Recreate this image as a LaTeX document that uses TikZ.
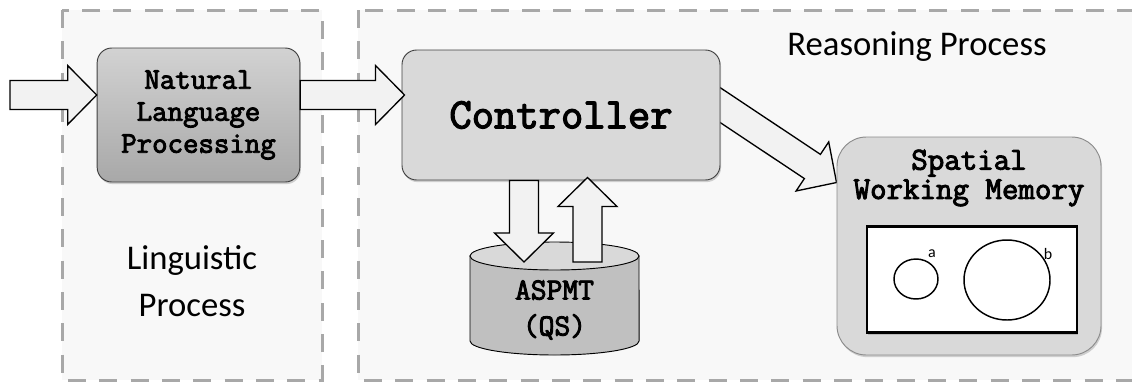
\documentclass[tikz,border=0pt]{standalone}
\usepackage{fontspec}
\setmainfont{Carlito}
\newfontfamily\codefont{Latin Modern Mono}[FakeBold=3]
\usetikzlibrary{shapes.geometric,shadows,calc,positioning}
\pgfdeclarelayer{bg}
\pgfdeclarelayer{arrows}
\pgfsetlayers{bg,arrows,main}

\definecolor{regionfill}{HTML}{F8F8F8}
\definecolor{regionline}{HTML}{A8A8A8}
\definecolor{boxfill}{HTML}{D9D9D9}
\definecolor{boxtop}{HTML}{D2D2D2}
\definecolor{boxbottom}{HTML}{A8A8A8}
\definecolor{arrowfill}{HTML}{F2F2F2}
\definecolor{dbfill}{HTML}{C0C0C0}

\tikzset{
  region/.style={fill=regionfill, draw=regionline, line width=2.25pt, dash pattern=on 13.5pt off 10pt},
  plabel/.style={font=\fontsize{26}{31.5}\selectfont, align=center},
  shade/.style={drop shadow={opacity=0.35, shadow xshift=0.8pt, shadow yshift=-1.6pt}},
  nlpbox/.style={shade, draw=black!75, line width=0.7pt, rounded corners=11pt, top color=boxtop, bottom color=boxbottom,
    minimum width=152pt, minimum height=100.5pt, align=center, font=\codefont\fontsize{22.5}{24}\selectfont},
  ctrlbox/.style={shade, draw=black!75, line width=0.7pt, rounded corners=11pt, fill=boxfill,
    minimum width=238.5pt, minimum height=97.5pt, font=\codefont\fontsize{32.5}{34}\selectfont},
  membox/.style={shade, draw=black!45, line width=0.7pt, rounded corners=22pt, fill=boxfill,
    minimum width=198pt, minimum height=163.5pt},
  memtitle/.style={align=center, font=\codefont\fontsize{24}{22}\selectfont},
  canvasbox/.style={shade, draw=black, line width=2.2pt, fill=white, minimum width=157.5pt, minimum height=80pt},
  blob/.style={ellipse, draw=black, line width=1.1pt, inner sep=0pt},
  bloblabel/.style={font=\fontsize{12}{14}\selectfont, inner sep=0pt},
  dbbody/.style={minimum width=126.75pt, minimum height=63.75pt, inner sep=0pt, outer sep=0pt},
  dbtext/.style={align=center, font=\codefont\fontsize{23}{27}\selectfont},
  fatarrow/.style={draw=black, fill=arrowfill, line width=1pt, line join=miter},
}

% block arrow from #1 to #2
\newcommand{\blockarrow}[2]{%
  \path ($(#2)!21.75pt!(#1)$) coordinate (ah);
  \draw[fatarrow] ($(#1)!10.9pt!90:(#2)$) -- ($(ah)!10.9pt!-90:(#1)$) -- ($(ah)!22.1pt!-90:(#1)$)
    -- (#2) -- ($(ah)!22.1pt!90:(#1)$) -- ($(ah)!10.9pt!90:(#1)$) -- ($(#1)!10.9pt!-90:(#2)$) -- cycle;}

\begin{document}
\begin{tikzpicture}[x=0.75pt,y=-0.75pt]
\useasboundingbox (0,0) rectangle (1132,383);
% the two process regions
\begin{pgfonlayer}{bg}
  \draw[region] (62,10) rectangle (322,380);
  \draw[region] (358,10) rectangle (1160,380);
\end{pgfonlayer}
\node[plabel, anchor=base] (reasoning) at (917,55) {Reasoning Process};
\node[plabel] (linguistic) at (192,281) {Linguistic\\[4pt]Process};

% boxes
\node[nlpbox] (nlp) at (198.5,115) {Natural\\Language\\Processing};
\node[ctrlbox] (ctrl) at (561,115) {Controller};
\node[membox] (swm) at (969,246) {};
\node[memtitle] (swmtitle) at (969,178) {Spatial\\Working Memory};
\node[canvasbox] (canvas) at (972,279.5) {};
\node[blob, minimum width=33pt, minimum height=30pt] (obja) at (916,279) {};
\node[blob, minimum width=64.5pt, minimum height=60pt] (objb) at (1007,280) {};
\node[bloblabel] (labela) at (932,254) {a};
\node[bloblabel] (labelb) at (1048,254) {b};

% database
\node[dbbody] (db) at (554.5,298.5) {};
\filldraw[fill=dbfill, line width=0.7pt] (db.north west) -- (db.south west) arc (180:360:63.4pt and 10.5pt) -- (db.north east) -- cycle;
\filldraw[fill=boxfill, line width=0.7pt] (db.north) ellipse (63.4pt and 10.5pt);
\node[dbtext] (dbtext) at (554.5,310) {ASPMT\\(QS)};

% arrows
\coordinate (input) at (10,95);
\coordinate (nlpin) at (nlp.west |- input);
\coordinate (nlpout) at (nlp.east |- input);
\coordinate (ctrlin) at ($(ctrl.west |- input)+(3,0)$);
\coordinate (ctrlout) at ($(ctrl.east)+(-20,-23)$);
\coordinate (swmin) at ($(swm.north west)!0.21!(swm.south west)$);
\coordinate (ctrldown) at ($(ctrl.south)+(-37,0)$);
\coordinate (dbin) at ($(db.center)+(-30.5,-36.5)$);
\coordinate (dbout) at ($(db.center)+(33,-36.5)$);
\coordinate (ctrlup) at ($(ctrl.south)+(26.5,-3)$);
\blockarrow{input}{nlpin}
\blockarrow{nlpout}{ctrlin}
\begin{pgfonlayer}{arrows}
  \blockarrow{ctrlout}{swmin}
\end{pgfonlayer}
\blockarrow{ctrldown}{dbin}
\blockarrow{dbout}{ctrlup}
\end{tikzpicture}
\end{document}
